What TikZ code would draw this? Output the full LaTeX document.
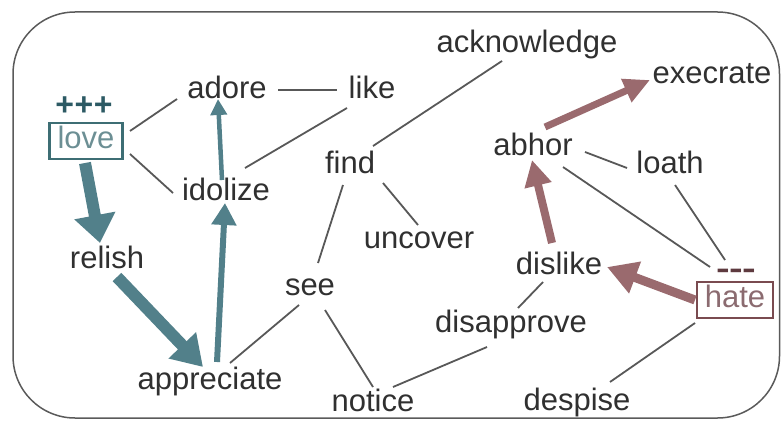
\documentclass[tikz,border=0pt]{standalone}
\usepackage{fontspec}
\setmainfont{Liberation Sans}
\usetikzlibrary{arrows.meta}
\definecolor{framegray}{HTML}{5A5A5A}
\definecolor{edgegray}{HTML}{585858}
\definecolor{wordgray}{HTML}{303030}
\definecolor{posbox}{HTML}{3D6E74}
\definecolor{postext}{HTML}{6C8F94}
\definecolor{posmark}{HTML}{2C5A64}
\definecolor{posarrow}{HTML}{52808A}
\definecolor{negbox}{HTML}{7A4B50}
\definecolor{negtext}{HTML}{8B6B70}
\definecolor{negmark}{HTML}{5E3A3F}
\definecolor{negarrow}{HTML}{9A6A6E}
\begin{document}
\begin{tikzpicture}[x=1pt,y=-1pt,
  word/.style={font=\fontsize{31}{31}\selectfont, text=wordgray,
    inner sep=3pt, text height=22pt, text depth=6.5pt},
  pole/.style={word, inner xsep=8pt, inner ysep=4pt, line width=2.2pt},
  link/.style={draw=edgegray, line width=1.8pt},
  posarr/.style={draw=posarrow, line width=#1},
  negarr/.style={draw=negarrow, line width=#1},
  mark/.style={font=\fontsize{#1}{#1}\selectfont\bfseries, inner sep=0pt}
]
\useasboundingbox (0,0) rectangle (781,420);
\draw[framegray, line width=1.5pt, rounded corners=62pt] (13,12) rectangle (779.5,418);

% words
\node[pole, draw=posbox, text=postext] (love) at (86,141) {love};
\node[pole, draw=negbox, text=negtext] (hate) at (735,300) {hate};
\node[word] (adore) at (227,91) {adore};
\node[word] (like) at (372,91) {like};
\node[word] (idolize) at (226,193) {idolize};
\node[word] (find) at (350,166) {find};
\node[word] (acknowledge) at (527,45) {acknowledge};
\node[word] (execrate) at (712,76) {execrate};
\node[word] (abhor) at (533,148) {abhor};
\node[word] (loath) at (670,166) {loath};
\node[word] (uncover) at (419,241) {uncover};
\node[word] (relish) at (107,261) {relish};
\node[word] (see) at (310,288) {see};
\node[word] (notice) at (373,404) {notice};
\node[word] (dislike) at (559,267) {dislike};
\node[word] (disapprove) at (511,325) {disapprove};
\node[word] (despise) at (577,403) {despise};
\node[word] (appreciate) at (210,382) {appreciate};

% polarity marks
\node[mark=32, text=posmark, anchor=base] (plus) at (84,115) {+\kern0.5pt+\kern0.5pt+};
\node[mark=21, text=negmark, anchor=center] (minus) at (736,275)
  {\scalebox{1}[1.7]{–\kern1.2pt–\kern1.2pt–}};

% plain similarity links
\draw[link] ([shift={(44,-10)}]love.center) -- ([shift={(-50,8)}]adore.center);
\draw[link] ([shift={(44,13)}]love.center) -- ([shift={(-53,0)}]idolize.center);
\draw[link] ([shift={(51,-1)}]adore.center) -- ([shift={(-35,-1)}]like.center);
\draw[link] ([shift={(-25,17)}]like.center) -- ([shift={(19,-25)}]idolize.center);
\draw[link] ([shift={(-25,16)}]acknowledge.center) -- ([shift={(23,-20)}]find.center);
\draw[link] ([shift={(33,17)}]find.center) -- ([shift={(-1,-16)}]uncover.center);
\draw[link] ([shift={(-7,19)}]find.center) -- ([shift={(8,-25)}]see.center);
\draw[link] ([shift={(-11,17)}]see.center) -- ([shift={(20,-19)}]appreciate.center);
\draw[link] ([shift={(15,22)}]see.center) -- ([shift={(0,-17)}]notice.center);
\draw[link] ([shift={(20,-17)}]notice.center) -- ([shift={(-24,22)}]disapprove.center);
\draw[link] ([shift={(7,-17)}]disapprove.center) -- ([shift={(-16,15)}]dislike.center);
\draw[link] ([shift={(52,4)}]abhor.center) -- ([shift={(-43,2)}]loath.center);
\draw[link] ([shift={(30,19)}]abhor.center) -- ([shift={(-25,-33)}]hate.center);
\draw[link] ([shift={(5,19)}]loath.center) -- ([shift={(-10,-40)}]hate.center);
\draw[link] ([shift={(-40,23)}]hate.center) -- ([shift={(33,-21)}]despise.center);

% positive propagation
\draw[posarr=12pt, -{Triangle[width=40pt,length=28pt]}]
  ([shift={(-1,22)}]love.center) -- ([shift={(-7,-18)}]relish.center);
\draw[posarr=12pt, -{Triangle[width=36pt,length=30pt]}]
  ([shift={(10,16)}]relish.center) -- ([shift={(-7,-15)}]appreciate.center);
\draw[posarr=6pt, -{Triangle[width=24pt,length=22pt]}]
  ([shift={(7,-20)}]appreciate.center) -- ([shift={(-1,10)}]idolize.center);
\draw[posarr=4.5pt, -{Triangle[width=16pt,length=16pt]}]
  ([shift={(-4,-13)}]idolize.center) -- ([shift={(-9,8)}]adore.center);

% negative propagation
\draw[negarr=9pt, -{Triangle[width=32pt,length=30pt]}]
  ([shift={(-40,0)}]hate.center) -- ([shift={(48,0)}]dislike.center);
\draw[negarr=8pt, -{Triangle[width=26pt,length=26pt]}]
  ([shift={(-7,-24)}]dislike.center) -- ([shift={(-1,12)}]abhor.center);
\draw[negarr=7pt, -{Triangle[width=24pt,length=26pt]}]
  ([shift={(12,-21)}]abhor.center) -- ([shift={(-62,4)}]execrate.center);
\end{tikzpicture}
\end{document}
